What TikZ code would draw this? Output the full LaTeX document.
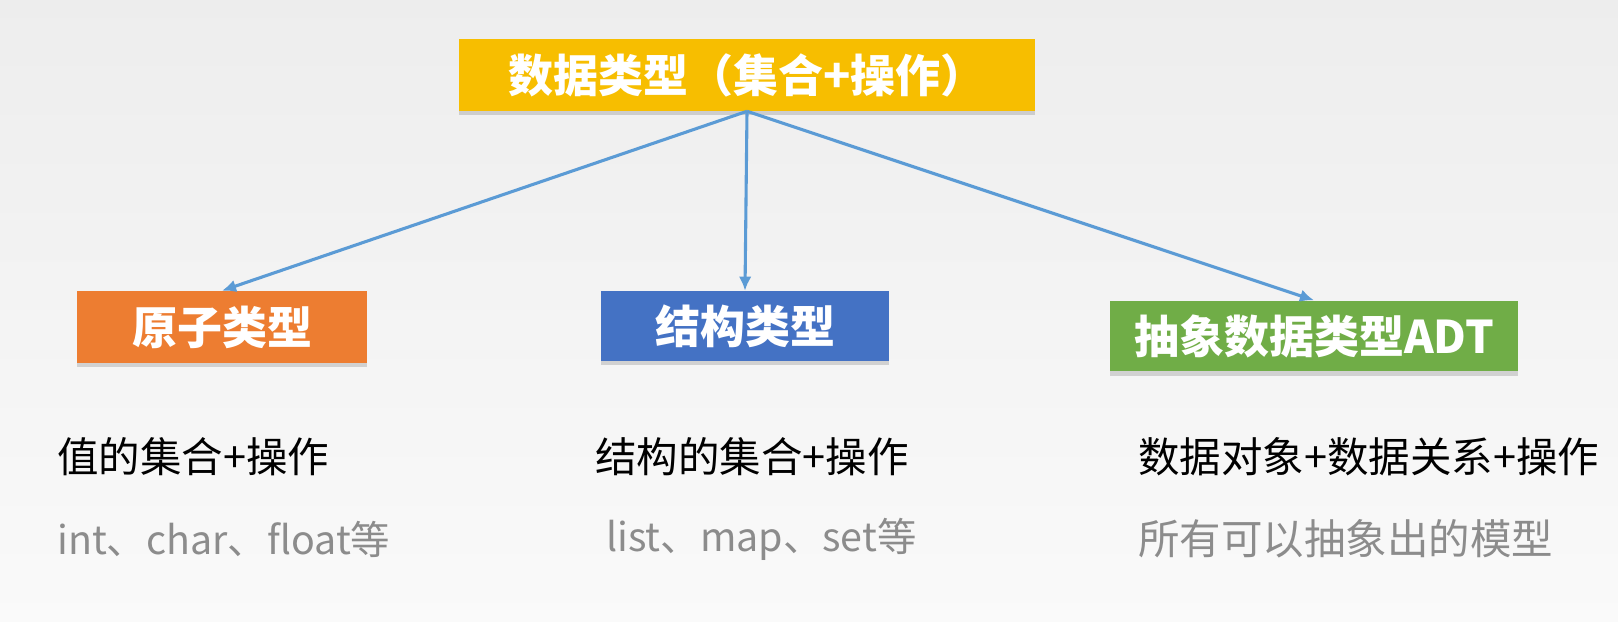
\documentclass[tikz,border=0pt]{standalone}
\usepackage{fontspec}
\setmainfont{Noto Sans CJK SC}
\usetikzlibrary{arrows.meta}
\usetikzlibrary{shadows}
\definecolor{topcolor}{RGB}{247,190,0}
\definecolor{atomcolor}{RGB}{237,125,49}
\definecolor{structcolor}{RGB}{68,114,196}
\definecolor{adtcolor}{RGB}{112,173,71}
\definecolor{linkcolor}{RGB}{91,155,213}
\definecolor{notecolor}{RGB}{140,140,140}

\tikzset{
    typebox/.style={fill=#1, text=white, inner sep=0pt, minimum height=1.8cm,
        font=\bfseries\fontsize{32}{36}\selectfont,
        drop shadow={shadow xshift=0pt, shadow yshift=-3pt, opacity=0.3}},
    link/.style={draw=linkcolor, line width=2.2pt, -{Latex[length=10pt, width=9pt]}},
    desc/.style={anchor=west, inner sep=0pt, font=\fontsize{29.5}{34}\selectfont},
    example/.style={desc, text=notecolor}
}

\begin{document}
\begin{tikzpicture}[x=0.025cm, y=-0.025cm]
    % background
    \shade[top color=black!7, bottom color=black!2] (0,0) rectangle (1618,622);
    \useasboundingbox (0,0) rectangle (1618,622);

    \node [typebox=topcolor, minimum width=14.4cm] (datatype) at (747,75) {数据类型（集合+操作）};

    \node [typebox=atomcolor, minimum width=7.25cm] (atomic) at (222,327) {原子类型};
    \node [typebox=structcolor, minimum width=7.2cm, minimum height=1.75cm] (struct) at (745,326) {结构类型};
    \node [typebox=adtcolor, minimum width=10.2cm, minimum height=1.77cm] (adt) at (1314,336) {抽象数据类型ADT};

    \draw [link] (datatype.south) -- (atomic.north);
    \draw [link] (datatype.south) -- (struct.north);
    \draw [link] (datatype.south) -- (adt.north);

    \node [desc] (atomdesc) at (57,457) {值的集合+操作};
    \node [example, font=\fontsize{28}{32}\selectfont] (atomeg) at (57,539) {int、char、float等};
    \node [desc] (structdesc) at (595,457) {结构的集合+操作};
    \node [example, font=\fontsize{28}{32}\selectfont] (structeg) at (606,539) {list、map、set等};
    \node [desc] (adtdesc) at (1138,457) {数据对象+数据关系+操作};
    \node [example] (adteg) at (1138,539) {所有可以抽象出的模型};

\end{tikzpicture}
\end{document}
